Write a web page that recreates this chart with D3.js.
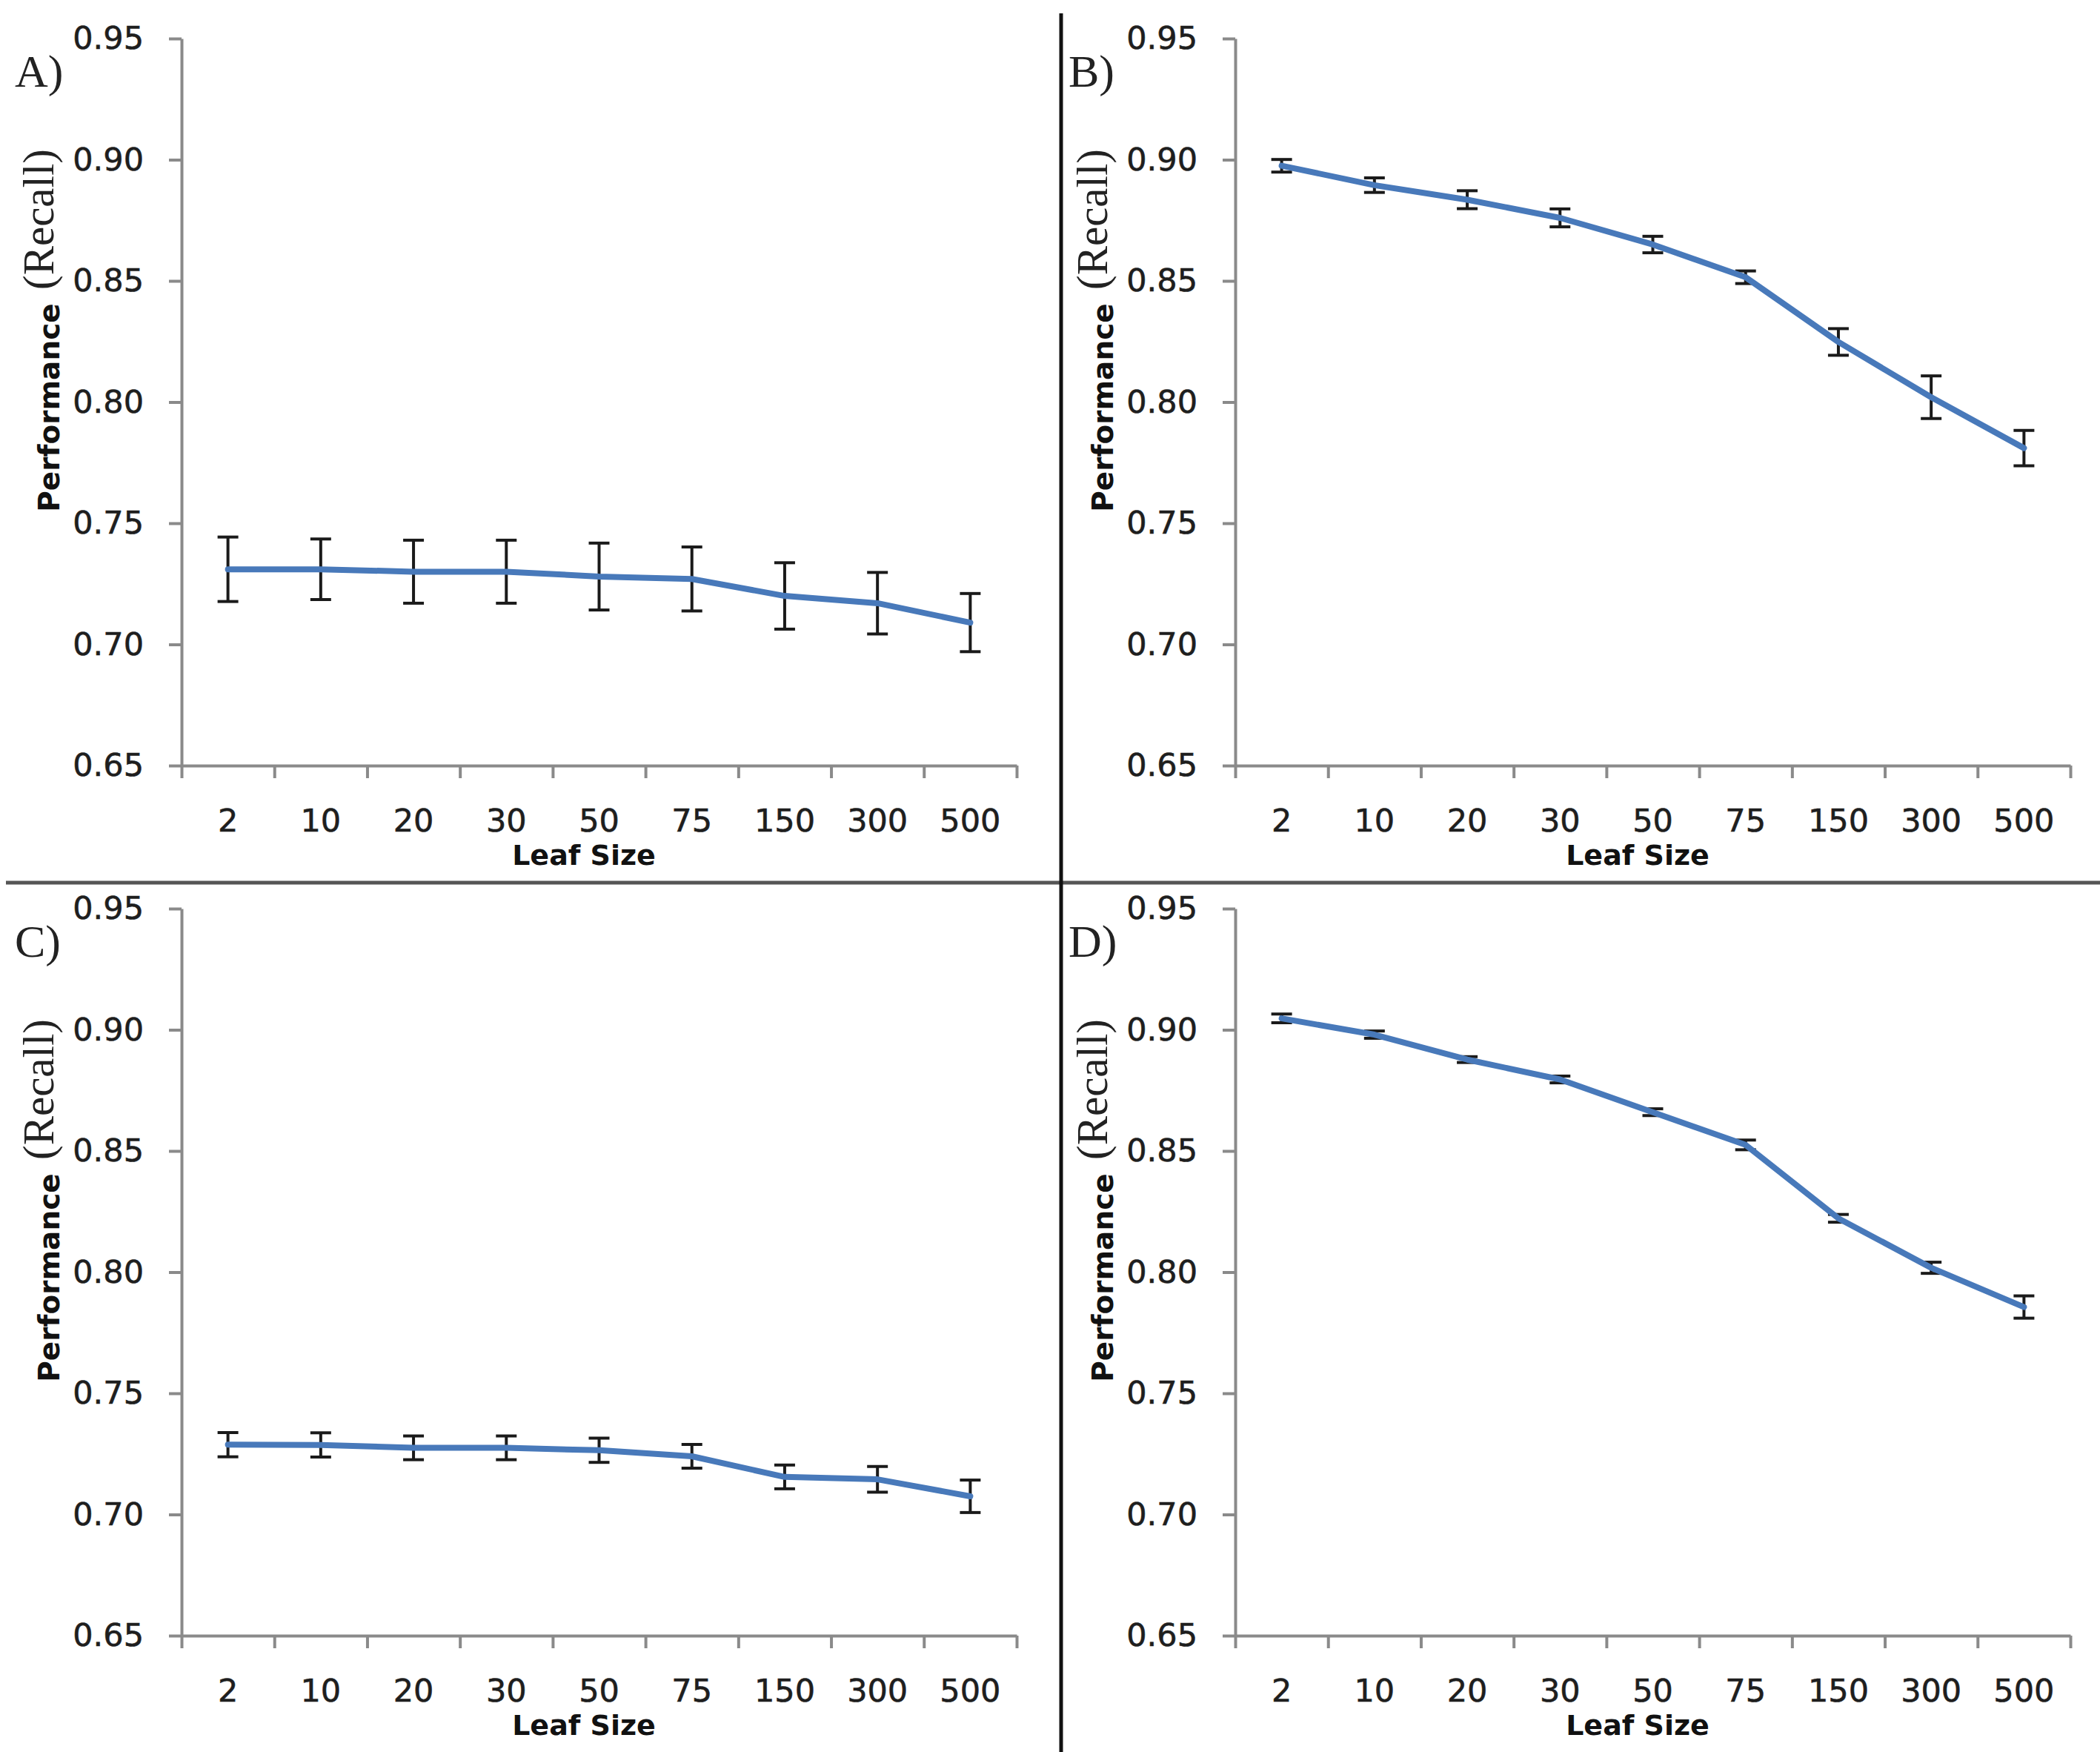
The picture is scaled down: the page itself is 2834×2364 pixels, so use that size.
<!DOCTYPE html>
<html lang="en">
<head>
    <meta charset="UTF-8">
    <title>Performance (Recall) vs Leaf Size</title>
    <script src="https://d3js.org/d3.v7.min.js"></script>
    <style>
        body { margin: 0; background: #fff; }
    </style>
</head>
<body>
    <script>
        // categories and tick values
        var leafSizes = ["2", "10", "20", "30", "50", "75", "150", "300", "500"];
        var yTicks = [0.65, 0.70, 0.75, 0.80, 0.85, 0.90, 0.95];

        // recall means and error bar half-widths
        var recallA = [0.731, 0.731, 0.730, 0.730, 0.728, 0.727, 0.720, 0.717, 0.709];
        var errA    = [0.0133, 0.0125, 0.013, 0.013, 0.0138, 0.0132, 0.0137, 0.0127, 0.012];
        var recallB = [0.8975, 0.8895, 0.8835, 0.876, 0.865, 0.8515, 0.8248, 0.802, 0.781];
        var errB    = [0.0026, 0.003, 0.0037, 0.0037, 0.0034, 0.0026, 0.0055, 0.0088, 0.0073];
        var recallC = [0.7288, 0.7287, 0.7275, 0.7275, 0.7265, 0.724, 0.7155, 0.7145, 0.7075];
        var errC    = [0.005, 0.005, 0.0049, 0.0049, 0.005, 0.0049, 0.0049, 0.0053, 0.0067];
        var recallD = [0.9047, 0.898, 0.8877, 0.8795, 0.866, 0.8525, 0.8222, 0.8018, 0.7856];
        var errD    = [0.0018, 0.0015, 0.0012, 0.0014, 0.0014, 0.002, 0.0016, 0.0023, 0.0046];

        var panelLabels = ["A)", "B)", "C)", "D)"];
        var panelValues = [recallA, recallB, recallC, recallD];
        var panelErrors = [errA, errB, errC, errD];

        var width = 2834;
        var height = 2364;

        var svg = d3.select("body").append("svg")
            .attr("width", width)
            .attr("height", height);

        // plot area inside one panel
        var plotLeft = 245, plotRight = 1372, plotTop = 52, plotBottom = 1033;
        var offsets = [[0, 0], [1422, 0], [0, 1174], [1422, 1174]];

        var x = d3.scaleBand().domain(leafSizes).range([plotLeft, plotRight]).padding(0);
        var xEdge = d3.scaleLinear().domain([0, leafSizes.length]).range([plotLeft, plotRight]);
        var y = d3.scaleLinear().domain([0.65, 0.95]).range([plotBottom, plotTop]);

        function cx(i) { return x(leafSizes[i]) + x.bandwidth() / 2; }

        var line = d3.line()
            .x(function(d, i) { return cx(i); })
            .y(function(d) { return y(d); });

        panelValues.forEach(function(values, p) {
            var errs = panelErrors[p];
            var g = svg.append("g")
                .attr("transform", "translate(" + offsets[p][0] + "," + offsets[p][1] + ")");

            // y axis
            var yAxis = g.append("g")
                .attr("transform", "translate(" + plotLeft + ",0)")
                .call(d3.axisLeft(y).tickValues(yTicks).tickSize(17).tickSizeOuter(0)
                    .tickPadding(34).tickFormat(d3.format(".2f")));

            // x axis: tick marks sit between categories
            var xAxis = g.append("g")
                .attr("transform", "translate(0," + plotBottom + ")")
                .call(d3.axisBottom(xEdge).tickValues(d3.range(leafSizes.length + 1))
                    .tickSize(17).tickSizeOuter(0).tickFormat(""));

            [yAxis, xAxis].forEach(function(ax) {
                ax.selectAll("path, line")
                    .attr("stroke", "#8a8a8a")
                    .attr("stroke-width", 4);
            });
            yAxis.selectAll("text")
                .attr("font-family", "DejaVu Sans")
                .attr("font-size", 43)
                .attr("fill", "#1e1e1e")
                .attr("stroke", "#1e1e1e")
                .attr("stroke-width", 0.6);

            // category labels at band centres
            var xLabels = g.append("g")
                .attr("transform", "translate(0," + plotBottom + ")")
                .call(d3.axisBottom(x).tickSize(0));
            xLabels.select(".domain").remove();
            xLabels.selectAll("text")
                .attr("y", 89)
                .attr("dy", null)
                .attr("font-family", "DejaVu Sans")
                .attr("font-size", 43)
                .attr("fill", "#1e1e1e")
                .attr("stroke", "#1e1e1e")
                .attr("stroke-width", 0.6);

            // axis titles
            g.append("text")
                .attr("x", 788)
                .attr("y", 1167)
                .attr("text-anchor", "middle")
                .attr("font-family", "DejaVu Sans")
                .attr("font-weight", "bold")
                .attr("font-size", 38)
                .attr("fill", "#111")
                .text("Leaf Size");

            g.append("text")
                .attr("transform", "translate(80,550) rotate(-90)")
                .attr("text-anchor", "middle")
                .attr("font-family", "DejaVu Sans")
                .attr("font-weight", "bold")
                .attr("font-size", 39)
                .attr("fill", "#111")
                .text("Performance");

            g.append("text")
                .attr("transform", "translate(72,296) rotate(-90)")
                .attr("text-anchor", "middle")
                .attr("font-family", "Liberation Serif")
                .attr("font-size", 59)
                .attr("fill", "#222")
                .text("(Recall)");

            g.append("text")
                .attr("x", 20)
                .attr("y", 117)
                .attr("font-family", "Liberation Serif")
                .attr("font-size", 62)
                .attr("fill", "#222")
                .text(panelLabels[p]);

            // error bars
            var bars = g.append("g")
                .selectAll("g")
                .data(values)
                .enter().append("g")
                .attr("stroke", "#1a1a1a")
                .attr("stroke-width", 4);

            bars.append("line")
                .attr("x1", function(d, i) { return cx(i); })
                .attr("x2", function(d, i) { return cx(i); })
                .attr("y1", function(d, i) { return y(d + errs[i]); })
                .attr("y2", function(d, i) { return y(d - errs[i]); });

            [1, -1].forEach(function(sign) {
                bars.append("line")
                    .attr("x1", function(d, i) { return cx(i) - 14; })
                    .attr("x2", function(d, i) { return cx(i) + 14; })
                    .attr("y1", function(d, i) { return y(d + sign * errs[i]); })
                    .attr("y2", function(d, i) { return y(d + sign * errs[i]); });
            });

            // series line
            g.append("path")
                .datum(values)
                .attr("d", line)
                .attr("fill", "none")
                .attr("stroke", "#4879ba")
                .attr("stroke-width", 8)
                .attr("stroke-linejoin", "round")
                .attr("stroke-linecap", "round");
        });

        // panel dividers
        svg.append("line")
            .attr("x1", 8).attr("x2", width)
            .attr("y1", 1191).attr("y2", 1191)
            .attr("stroke", "#555")
            .attr("stroke-width", 5);

        svg.append("line")
            .attr("x1", 1432).attr("x2", 1432)
            .attr("y1", 18).attr("y2", height)
            .attr("stroke", "#111")
            .attr("stroke-width", 5);
    </script>
</body>
</html>
